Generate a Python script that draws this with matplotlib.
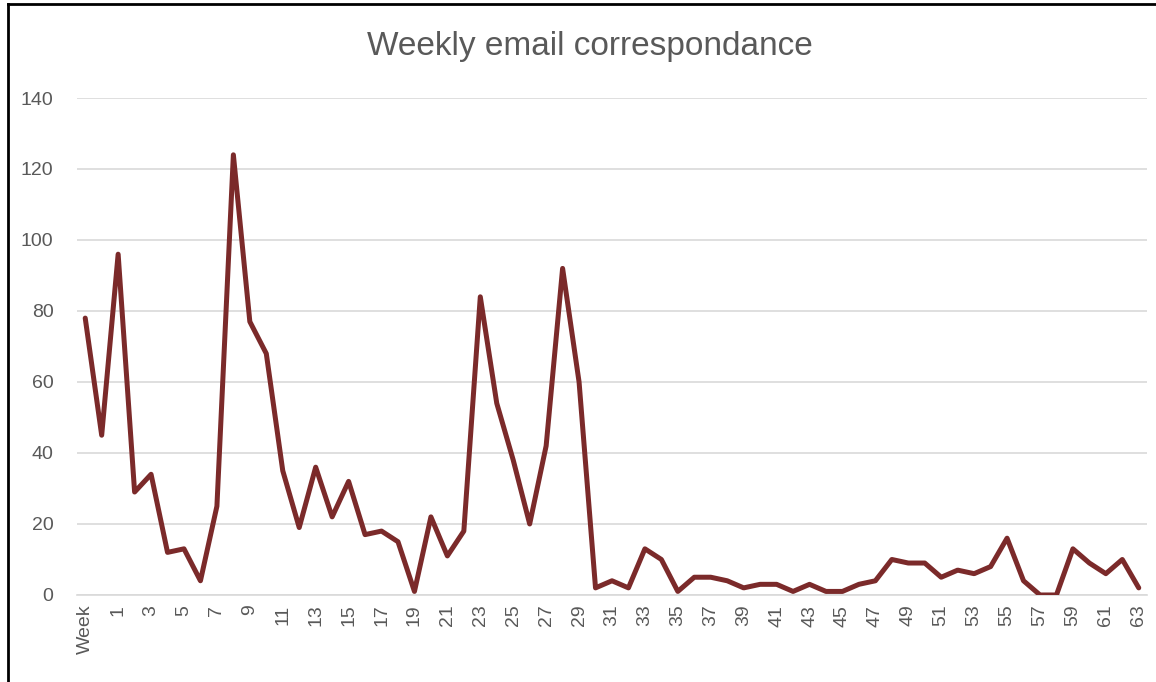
import matplotlib
matplotlib.use("Agg")
import matplotlib.pyplot as plt
from matplotlib.lines import Line2D

# ---------------------------------------------------------
# data
# ---------------------------------------------------------
weeks = ["Week"] + [str(i) for i in range(64)]
emails = [78, 45, 96, 29, 34, 12, 13, 4, 25, 124,
          77, 68, 35, 19, 36, 22, 32, 17, 18, 15,
          1, 22, 11, 18, 84, 54, 38, 20, 42, 92,
          60, 2, 4, 2, 13, 10, 1, 5, 5, 4,
          2, 3, 3, 1, 3, 1, 1, 3, 4, 10,
          9, 9, 5, 7, 6, 8, 16, 4, 0, 0,
          13, 9, 6, 10, 2]
y_ticks = [0, 20, 40, 60, 80, 100, 120, 140]

LINE_COLOR = "#7B2A2A"
TEXT_GRAY = "#595959"

# ---------------------------------------------------------
# plot
# ---------------------------------------------------------
plt.rcParams['font.family'] = ['Liberation Sans', 'DejaVu Sans']

fig = plt.figure(figsize=(11.56, 6.82), dpi=100)
ax = fig.add_axes([0.0666, 0.1276, 0.9256, 0.7287])

x = list(range(len(weeks)))
ax.plot(x, emails, color=LINE_COLOR, linewidth=3.6, solid_joinstyle='round',
        solid_capstyle='round', zorder=3)

ax.set_xlim(-0.5, len(weeks) - 0.5)
ax.set_ylim(0, 140)
ax.set_yticks(y_ticks)
ax.set_yticklabels([str(v) for v in y_ticks], color=TEXT_GRAY, fontsize=14)

shown = x[::2]
ax.set_xticks(shown)
ax.set_xticklabels([weeks[i] for i in shown], rotation=90, color=TEXT_GRAY, fontsize=14)
ax.tick_params(axis='y', length=0, pad=17)
ax.tick_params(axis='x', length=0, pad=7)

ax.grid(axis='y', color="#D9D9D9", linewidth=1.2)
ax.set_axisbelow(True)
for side in ['top', 'right', 'left']:
    ax.spines[side].set_visible(False)
ax.spines['bottom'].set_color("#D9D9D9")
ax.spines['bottom'].set_linewidth(1.2)

fig.text(0.51, 0.932, "Weekly email correspondance", ha='center', va='center',
         fontsize=24, color=TEXT_GRAY)

# frame of the screenshot (left and top edges)
fig.add_artist(Line2D([0.0065, 0.0065], [0, 0.994], transform=fig.transFigure,
                      color='black', linewidth=2))
fig.add_artist(Line2D([0.0065, 1], [0.994, 0.994], transform=fig.transFigure,
                      color='black', linewidth=2))

fig.savefig("out.png", dpi=100)
